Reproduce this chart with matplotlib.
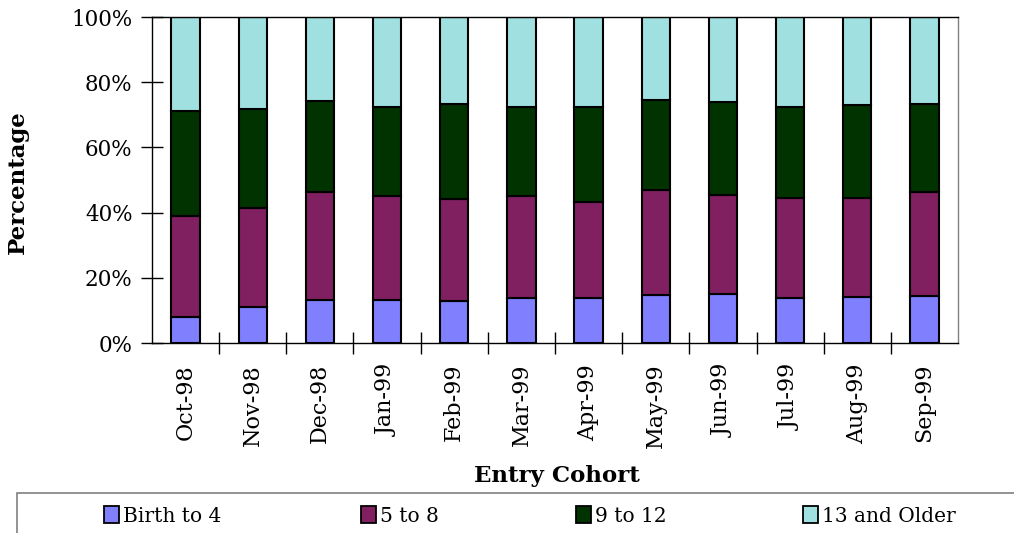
import numpy as np
import matplotlib
matplotlib.use("Agg")
import matplotlib.pyplot as plt
from matplotlib.patches import Rectangle, Patch

# entry cohorts and age-group shares (percent of each cohort)
cohorts = ['Oct-98', 'Nov-98', 'Dec-98', 'Jan-99', 'Feb-99', 'Mar-99',
           'Apr-99', 'May-99', 'Jun-99', 'Jul-99', 'Aug-99', 'Sep-99']
birth_to_4 = [8.0, 11.1, 13.1, 13.3, 12.8, 13.7, 13.8, 14.6, 15.0, 13.8, 14.1, 14.3]
age_5_to_8 = [30.9, 30.3, 33.1, 31.9, 31.5, 31.3, 29.6, 32.2, 30.3, 30.7, 30.4, 31.9]
age_9_to_12 = [32.2, 30.4, 28.1, 27.2, 29.0, 27.3, 28.9, 27.8, 28.5, 28.0, 28.6, 27.1]
age_13_up = [100 - a - b - c for a, b, c in zip(birth_to_4, age_5_to_8, age_9_to_12)]

series = [birth_to_4, age_5_to_8, age_9_to_12, age_13_up]
labels = ['Birth to 4', '5 to 8', '9 to 12', '13 and Older']
colors = ['#8080FF', '#802060', '#003300', '#A0E0E0']

plt.rcParams['font.family'] = ['DejaVu Serif']

fig = plt.figure(figsize=(10.14, 5.33), dpi=100)
ax = fig.add_axes([152/1014, 1-343/533, (958-152)/1014, (343-17)/533])

x = np.arange(len(cohorts))
bottom = np.zeros(len(cohorts))
for vals, col in zip(series, colors):
    ax.bar(x, vals, width=0.42, bottom=bottom, color=col,
           edgecolor='black', linewidth=1.5)
    bottom += np.array(vals)

ax.set_xlim(-0.5, len(cohorts) - 0.5)
ax.set_ylim(0, 100)
ax.set_yticks(np.arange(0, 101, 20))
ax.set_yticklabels(['%d%%' % v for v in range(0, 101, 20)], fontsize=15.5)
ax.set_xticks(x)
ax.set_xticklabels(cohorts, rotation=90, fontsize=16)
ax.tick_params(axis='x', length=0, pad=15)
ax.set_xticks(np.arange(0.5, len(cohorts) - 0.5, 1), minor=True)
ax.tick_params(axis='x', which='minor', direction='inout', length=16, width=1)
ax.tick_params(axis='y', direction='inout', length=16, width=1, pad=6)
ax.spines['right'].set_color('#808080')
for s in ax.spines.values():
    s.set_linewidth(1)

fig.text(18/1014, 1-182/533, 'Percentage', rotation=90, ha='center',
         va='center', fontsize=16.5, fontweight='bold')
fig.text(557/1014, 1-476/533, 'Entry Cohort', ha='center', va='center',
         fontsize=16.5, fontweight='bold')

# legend box along the bottom edge
fig.add_artist(Rectangle((17/1014, -0.1), 1.2, 0.1 + (533-493)/533,
                         transform=fig.transFigure, facecolor='none',
                         edgecolor='#808080', linewidth=1.2))
legend_x = [104, 361, 576, 803]
for lab, col, lx in zip(labels, colors, legend_x):
    h = Patch(facecolor=col, edgecolor='black', linewidth=1.3)
    fig.legend([h], [lab], loc='center left', frameon=False,
               bbox_to_anchor=(lx/1014, 1-516/533), fontsize=14.5,
               handlelength=0.75, handleheight=0.85, handletextpad=0.2,
               borderpad=0, borderaxespad=0)

fig.savefig('out.png', dpi=100)
